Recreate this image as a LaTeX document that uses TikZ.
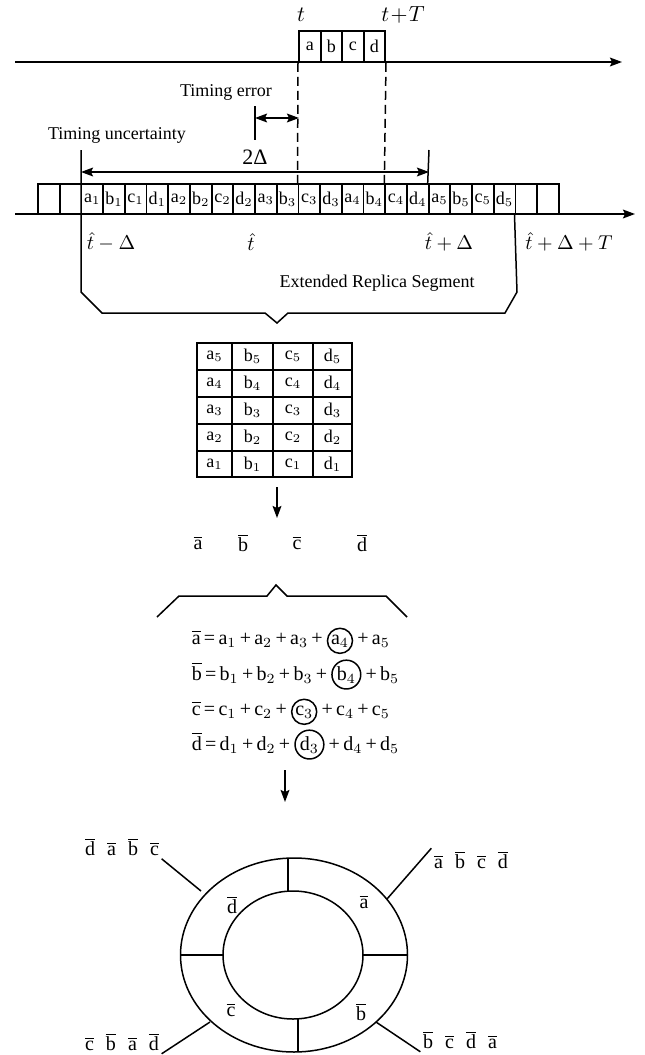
\documentclass[tikz,border=0pt]{standalone}
\usepackage{fontspec}
\setmainfont{Liberation Serif}
\usetikzlibrary{arrows.meta,positioning}

\newcommand{\ov}[1]{\ensuremath{\overline{\mathrm{#1}}}}
\newcommand{\ovrow}[4]{\ov{#1}\hspace{6pt}\ov{#2}\hspace{6pt}\ov{#3}\hspace{6pt}\ov{#4}}
\newcommand{\pl}{\mskip3mu\mbox{+}\mskip3mu}
\newcommand{\eqs}{\mskip3mu\mbox{=}\mskip3mu}

\tikzset{
  slot/.style={draw,line width=0.9pt,minimum width=10.85pt,minimum height=15pt,inner sep=0pt},
  eqn/.style={inner sep=0pt,font=\fontsize{10}{12}\selectfont},
  ringed/.style={draw,circle,inner sep=0.6pt,font=\fontsize{10}{12}\selectfont},
  tag/.style={inner sep=1pt},
}

\begin{document}
\begin{tikzpicture}[x=0.5pt,y=-0.5pt,line width=0.75pt,font=\fontsize{9}{11}\selectfont,
  >={Stealth[length=6pt,width=4.4pt,inset=1pt]}]
\useasboundingbox (0,0) rectangle (644,1055);

% received symbol on the time axis
\draw[->] (15,62) -- (622,62);
\foreach \s [count=\i from 0] in {a,b,c,d}
  \node[slot,minimum height=15.5pt] (top\s) at ({299+21.5*\i+10.75},46.5) {\s};
\node (t) at (301,15) {\fontsize{11}{13}\selectfont$t$};
\node (tT) at (403,15) {\fontsize{11}{13}\selectfont$t\!+\!T$};

% replica row
\draw[->] (15,214) -- (635,214);
\foreach \k in {0,1,22,23}
  \node[slot] (s\k) at ({38+21.7*\k+10.85},199) {};
\foreach \n in {1,...,5}
  \foreach \s [count=\j from 0] in {a,b,c,d} {
    \pgfmathtruncatemacro\k{4*\n+\j-2}
    \node[slot] (s\k) at ({38+21.7*\k+10.85},199) {$\mathrm{\s}_{\n}$};
  }

\draw[dash pattern=on 4.5pt off 2.5pt] (topa.south west) -- (s12.north west);
\draw[dash pattern=on 4.5pt off 2.5pt] (topd.south east) -- (s16.north west);

% timing error
\node (terr) at (226,92) {Timing error};
\draw (255,106) -- (255,140);
\draw[<->] (255,118) -- (299,118);

% timing uncertainty
\node (tunc) at (117,135) {Timing uncertainty};
\draw (429,150) -- (s18.north west);
\draw[<->] (81,172) -- node[above=0pt,font=\fontsize{11}{13}\selectfont] {2Δ} (429,172);
\draw (81,150) -- (81,292) -- (102,313) -- (265,313) -- (277,323) -- (288,313)
  -- (505,313) -- (517,292) -- (s22.south west);

\node at (111,242) {\fontsize{10}{12}\selectfont$\hat{t}-\Delta$};
\node at (251,242) {\fontsize{10}{12}\selectfont$\hat{t}$};
\node at (449,242) {\fontsize{10}{12}\selectfont$\hat{t}+\Delta$};
\node at (569,242) {\fontsize{10}{12}\selectfont$\hat{t}+\Delta+T$};
\node (ers) at (377,283) {Extended Replica Segment};

% matrix of replica samples
\draw (197,343) rectangle (352,477);
\foreach \y in {370,397,424,451} \draw (197,\y) -- (352,\y);
\foreach \x in {232,273,313} \draw (\x,343) -- (\x,477);
\foreach \s/\x in {a/214.5,b/252.5,c/293,d/332.5}
  \foreach \n/\y in {5/356.5,4/383.5,3/410.5,2/437.5,1/464}
    \node (m\s\n) at (\x,\y) {$\mathrm{\s}_{\n}$};

\coordinate (m0) at (277,487);
\coordinate (m1) at (277,518);
\draw[->] (m0) -- (m1);

\foreach \s/\x in {a/198,b/243,c/297,d/362}
  \node (bar\s) at (\x,543) {\fontsize{10}{12}\selectfont\ov{\s}};

\draw (157,617) -- (179,596) -- (267,596) -- (276,585) -- (287,596) -- (386,596) -- (407,617);

% combining
\node[eqn,anchor=base west] (ea) at (191,644) {$\ov{a}\eqs\mathrm{a}_1\pl\mathrm{a}_2\pl\mathrm{a}_3\pl$};
\node[ringed,base right=0pt of ea] (ea4) {$\mathrm{a}_4$};
\node[eqn,base right=0pt of ea4] (ea5) {$\pl\mathrm{a}_5$};

\node[eqn,anchor=base west] (eb) at (191,680) {$\ov{b}\eqs\mathrm{b}_1\pl\mathrm{b}_2\pl\mathrm{b}_3\pl$};
\node[ringed,base right=0pt of eb] (eb4) {$\mathrm{b}_4$};
\node[eqn,base right=0pt of eb4] (eb5) {$\pl\mathrm{b}_5$};

\node[eqn,anchor=base west] (ec) at (191,715) {$\ov{c}\eqs\mathrm{c}_1\pl\mathrm{c}_2\pl$};
\node[ringed,base right=0pt of ec] (ec3) {$\mathrm{c}_3$};
\node[eqn,base right=0pt of ec3] (ec5) {$\pl\mathrm{c}_4\pl\mathrm{c}_5$};

\node[eqn,anchor=base west] (ed) at (191,750) {$\ov{d}\eqs\mathrm{d}_1\pl\mathrm{d}_2\pl$};
\node[ringed,base right=0pt of ed] (ed3) {$\mathrm{d}_3$};
\node[eqn,base right=0pt of ed3] (ed5) {$\pl\mathrm{d}_4\pl\mathrm{d}_5$};

\coordinate (e0) at (285,770);
\coordinate (e1) at (285,802);
\draw[->] (e0) -- (e1);

% ring buffer
\draw (294,955) ellipse [x radius=113.5, y radius=97];
\draw (293,955) ellipse [x radius=70, y radius=64];
\draw (288,858) -- (288,891);
\draw (298,1019) -- (298,1052);
\draw (180.5,955) -- (223,955);
\draw (363,955) -- (407.5,955);

\node (rd) at (232,905) {\fontsize{10}{12}\selectfont\ov{d}};
\node (ra) at (364,902) {\fontsize{10}{12}\selectfont\ov{a}};
\node (rc) at (231,1010) {\fontsize{10}{12}\selectfont\ov{c}};
\node (rb) at (361,1012) {\fontsize{10}{12}\selectfont\ov{b}};

\node[tag] (ul) at (122,847) {\fontsize{10}{12}\selectfont\ovrow{d}{a}{b}{c}};
\node[tag] (ur) at (471,860) {\fontsize{10}{12}\selectfont\ovrow{a}{b}{c}{d}};
\node[tag] (ll) at (122,1042) {\fontsize{10}{12}\selectfont\ovrow{c}{b}{a}{d}};
\node[tag] (lr) at (460,1040) {\fontsize{10}{12}\selectfont\ovrow{b}{c}{d}{a}};

\coordinate (pul) at (201,891);
\coordinate (pur) at (387,899);
\coordinate (pll) at (210,1022);
\coordinate (plr) at (376,1022);
\draw (ul.south east) -- (pul);
\draw (ur.north west) -- (pur);
\draw (ll.south east) -- (pll);
\draw (lr.south west) -- (plr);
\end{tikzpicture}
\end{document}
